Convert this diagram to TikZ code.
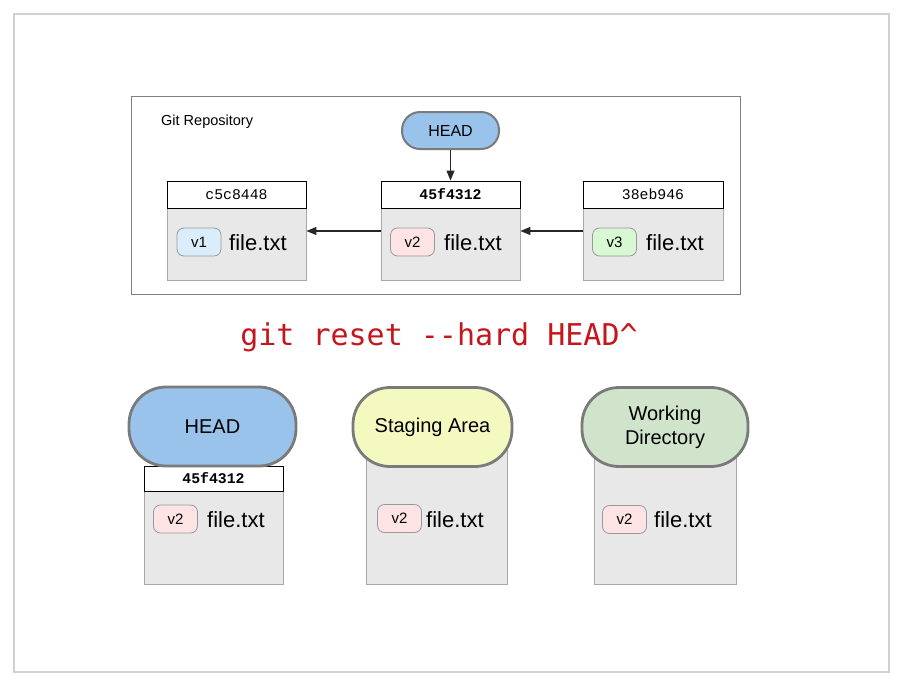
\documentclass[tikz,border=0pt]{standalone}
\usepackage{fontspec}
\setmainfont{Liberation Sans}
\newfontfamily\hashfont{Liberation Mono}
\newfontfamily\cmdfont{DejaVu Sans Mono}
\usetikzlibrary{arrows.meta}
\definecolor{headblue}{HTML}{99C3EB}
\definecolor{stageyellow}{HTML}{F4FABF}
\definecolor{workgreen}{HTML}{CFE4CA}
\definecolor{bodygray}{HTML}{E8E8E8}
\definecolor{bodyline}{HTML}{A8A8A8}
\definecolor{pillline}{HTML}{7A7A7A}
\definecolor{vone}{HTML}{D9EEFA}
\definecolor{vtwo}{HTML}{FDE3E3}
\definecolor{vthree}{HTML}{D8F7D3}
\definecolor{cmdred}{HTML}{C4161C}
\tikzset{
  hdr/.style={draw=black, line width=1pt, fill=white, minimum width=139pt, minimum height=27pt, inner sep=0pt, font=\hashfont\fontsize{14.8}{15}\selectfont},
  bodybox/.style={draw=bodyline, line width=0.9pt, fill=bodygray, inner sep=0pt},
  badge/.style={draw=gray!80, line width=0.8pt, rounded corners=7pt, minimum width=44pt, minimum height=28pt, inner sep=0pt, font=\fontsize{15}{15}\selectfont},
  fname/.style={anchor=west, inner sep=0pt, font=\fontsize{22}{22}\selectfont},
  bigpill/.style={draw=pillline, line width=2.8pt, rounded corners=37pt, minimum height=79pt, inner sep=0pt, align=center, font=\fontsize{20}{24}\selectfont},
  arr/.style={draw=black!85, line width=1.2pt, -{Triangle[length=10pt,width=8pt]}},
}
\begin{document}
\begin{tikzpicture}[x=1pt,y=-1pt]
\useasboundingbox (0,0) rectangle (903,686);
\draw[draw=black!18, line width=1.2pt] (14,14) rectangle (889,672);
% repository frame
\node[draw=black!50, line width=1pt, minimum width=609pt, minimum height=198pt, inner sep=0pt] (repo) at (435.5,195) {};
\node[anchor=west, inner sep=0pt, font=\fontsize{14.5}{15}\selectfont] (repolabel) at (161,121.5) {Git Repository};
% top HEAD
\node[draw=pillline, line width=2pt, fill=headblue, rounded corners=18pt, minimum width=97pt, minimum height=37pt, inner sep=0pt, font=\fontsize{16}{16}\selectfont] (head) at (450.5,130.5) {HEAD};
% commits
\node[bodybox, minimum width=139pt, minimum height=72pt] (c1b) at (236.5,244) {};
\node[hdr] (c1h) at (236.5,194.5) {c5c8448};
\node[bodybox, minimum width=139pt, minimum height=72pt] (c2b) at (450.5,244) {};
\node[hdr, font=\hashfont\bfseries\fontsize{14.8}{15}\selectfont] (c2h) at (450.5,194.5) {45f4312};
\node[bodybox, minimum width=140pt, minimum height=72pt] (c3b) at (653,244) {};
\node[hdr, minimum width=140pt] (c3h) at (653,194.5) {38eb946};
\node[badge, fill=vone] (b1) at (199,242) {v1};
\node[fname] (f1) at (229,243) {file.txt};
\node[badge, fill=vtwo] (b2) at (412.5,242) {v2};
\node[fname] (f2) at (444,243) {file.txt};
\node[badge, fill=vthree] (b3) at (614.5,242) {v3};
\node[fname] (f3) at (646,243) {file.txt};
\draw[arr] (head.south) -- (c2h.north);
\draw[arr] ([yshift=13pt]c2b.west) -- ([yshift=13pt]c1b.east);
\draw[arr] ([yshift=13pt]c3b.west) -- ([yshift=13pt]c2b.east);
% command
\node[inner sep=0pt, text=cmdred, font=\cmdfont\fontsize{30}{30}\selectfont] (cmd) at (439,337) {git reset -{}-hard HEAD\^{}};
% bottom: HEAD
\node[bodybox, minimum width=139pt, minimum height=93pt] (hb) at (213.5,537.5) {};
\node[hdr, minimum height=25pt, font=\hashfont\bfseries\fontsize{14.8}{15}\selectfont] (hh) at (213.5,478.5) {45f4312};
\node[bigpill, fill=headblue, minimum width=167pt] (hp) at (212.5,426.5) {HEAD};
\node[badge, fill=vtwo] (hv) at (175.5,519) {v2};
\node[fname] (hf) at (207,520) {file.txt};
% bottom: staging
\node[bodybox, minimum width=141pt, minimum height=144pt] (sb) at (436.5,512) {};
\node[bigpill, fill=stageyellow, minimum width=159pt] (sp) at (432.5,427) {Staging Area};
\node[badge, fill=vtwo] (sv) at (399.5,518.5) {v2};
\node[fname] (sf) at (426,520) {file.txt};
% bottom: working directory
\node[bodybox, minimum width=142pt, minimum height=144pt] (wb) at (665,512) {};
\node[bigpill, fill=workgreen, minimum width=166pt] (wp) at (665,427) {Working\\Directory};
\node[badge, fill=vtwo] (wv) at (624.5,519.5) {v2};
\node[fname] (wf) at (654,520) {file.txt};
\end{tikzpicture}
\end{document}
